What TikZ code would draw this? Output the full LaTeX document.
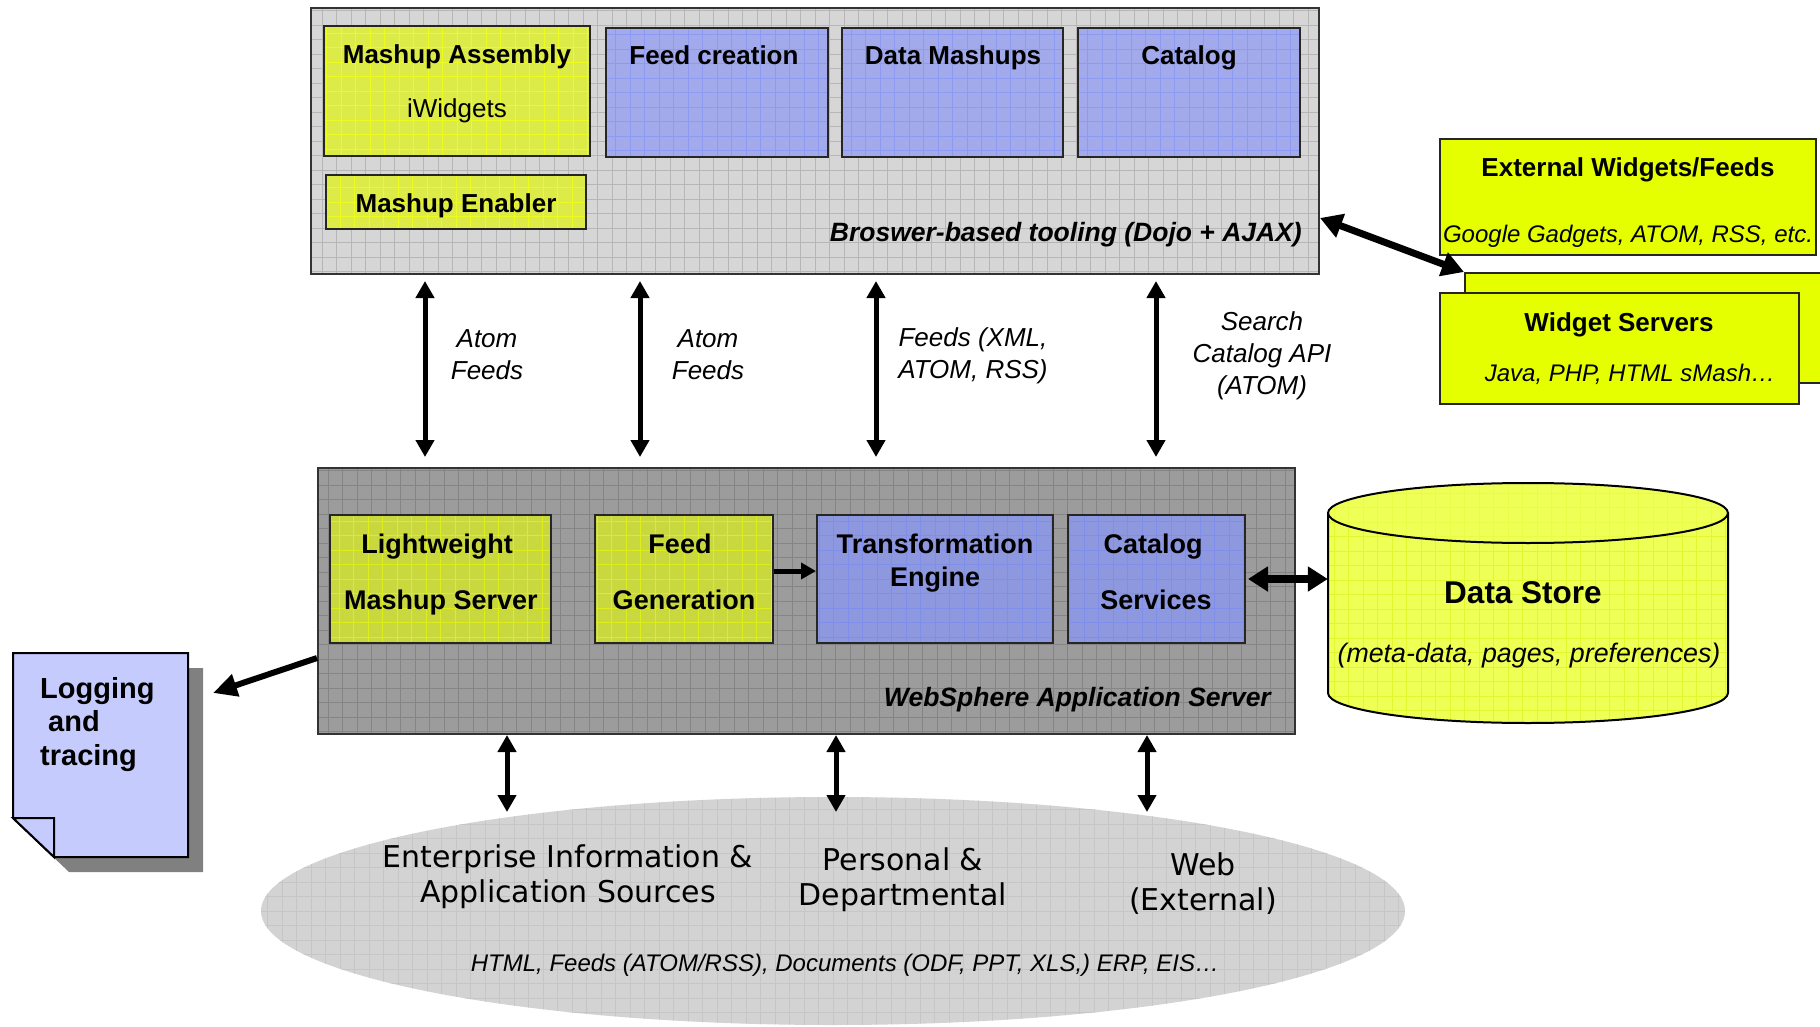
\documentclass[tikz,border=0pt]{standalone}
\usepackage{fontspec}
\setmainfont{Liberation Sans}
\newfontfamily\ellfont{DejaVu Sans}
\usetikzlibrary{arrows.meta,shapes.geometric}
\definecolor{topbg}{HTML}{D6D6D6}
\definecolor{topgrid}{HTML}{B6B6B6}
\definecolor{ylw}{HTML}{DCEB48}
\definecolor{ylwgrid}{HTML}{EEFB1E}
\definecolor{blu}{HTML}{A2AAEC}
\definecolor{blugrid}{HTML}{8C9AF2}
\definecolor{midbg}{HTML}{9C9C9C}
\definecolor{midgrid}{HTML}{858585}
\definecolor{mylw}{HTML}{CAD840}
\definecolor{mylwgrid}{HTML}{DDEE1A}
\definecolor{mblu}{HTML}{8E98DE}
\definecolor{mblugrid}{HTML}{7E8EEA}
\definecolor{extylw}{HTML}{E6FF00}
\definecolor{dsylw}{HTML}{EEFF55}
\definecolor{dsgrid}{HTML}{E2F630}
\definecolor{logblu}{HTML}{C6CBFD}
\definecolor{srcgray}{HTML}{D3D3D3}
\definecolor{srcgrid}{HTML}{C6C6C6}
\tikzset{
  gridded/.style 2 args={fill=#1, path picture={\draw[draw=#2, line width=0.9pt]
     ([shift={(-30pt,-30pt)}]path picture bounding box.south west) grid[step=14.5pt]
     ([shift={(30pt,30pt)}]path picture bounding box.north east);}},
  box/.style={draw=black!85, line width=2pt, inner sep=0pt},
  bt/.style={font=\bfseries\fontsize{26}{31}\selectfont, inner sep=0pt, anchor=base},
  mbt/.style={font=\bfseries\fontsize{27}{32}\selectfont, inner sep=0pt, anchor=base},
  rt/.style={font=\fontsize{26}{31}\selectfont, inner sep=0pt, anchor=base},
  it/.style={font=\itshape\fontsize{26}{32}\selectfont, inner sep=0pt, align=center},
  sit/.style={font=\itshape\fontsize{24}{28}\selectfont, inner sep=0pt, anchor=base},
  bit/.style={font=\bfseries\itshape\fontsize{26.5}{31}\selectfont, inner sep=0pt, anchor=base east},
  et/.style={font=\ellfont\fontsize{30}{35}\selectfont, inner sep=0pt, align=center},
  varr/.style={{Triangle[length=17pt,width=18pt]}-{Triangle[length=17pt,width=18pt]}, line width=5pt},
  bigarr/.style={{Triangle[length=22pt,width=24pt]}-{Triangle[length=22pt,width=24pt]}, line width=7pt},
}
\begin{document}
\begin{tikzpicture}[x=1pt,y=-1pt]
\useasboundingbox (0,0) rectangle (1820,1027);

% ---------- browser tooling ----------
\node[box, gridded={topbg}{topgrid}, draw=black!80, minimum width=1008, minimum height=266] (top) at (815,141) {};
\node[box, gridded={ylw}{ylwgrid}, minimum width=266, minimum height=130] (ma) at (457,91) {};
\node[bt] (maT) at (457,63.5) {Mashup Assembly};
\node[rt] (maS) at (457,117.5) {iWidgets};
\node[box, gridded={blu}{blugrid}, minimum width=222, minimum height=129] (fc) at (717,92.5) {};
\node[bt] (fcT) at (714,64.5) {Feed creation};
\node[box, gridded={blu}{blugrid}, minimum width=221, minimum height=129] (dm) at (952.5,92.5) {};
\node[bt] (dmT) at (953,64.5) {Data Mashups};
\node[box, gridded={blu}{blugrid}, minimum width=222, minimum height=129] (cat) at (1189,92.5) {};
\node[bt] (catT) at (1189,64.5) {Catalog};
\node[box, gridded={ylw}{ylwgrid}, minimum width=260, minimum height=54] (me) at (456,202) {};
\node[bt] (meT) at (456,212) {Mashup Enabler};
\node[bit] (topT) at (1302,241.5) {Broswer-based tooling (Dojo + AJAX)};

% ---------- external ----------
\node[box, fill=extylw, minimum width=376, minimum height=116] (ext) at (1628,197) {};
\node[bt] (extT) at (1628,177) {External Widgets/Feeds};
\node[sit] (extS) at (1628,243) {Google Gadgets, ATOM, RSS, etc.};
\node[box, fill=extylw, anchor=north west, minimum width=370, minimum height=110] (wsback) at (1464,272) {};
\node[box, fill=extylw, minimum width=359, minimum height=111] (ws) at (1619.5,348.5) {};
\node[bt] (wsT) at (1619,331) {Widget Servers};
\node[sit] (wsS) at (1630,381) {Java, PHP, HTML sMash…};

% ---------- application server ----------
\node[box, gridded={midbg}{midgrid}, draw=black!80, minimum width=977, minimum height=266] (mid) at (806.5,601) {};
\node[box, gridded={mylw}{mylwgrid}, minimum width=221, minimum height=128] (lms) at (440.5,579) {};
\node[mbt] (lmsT1) at (437,553) {Lightweight};
\node[mbt] (lmsT2) at (441,609) {Mashup Server};
\node[box, gridded={mylw}{mylwgrid}, minimum width=178, minimum height=128] (fg) at (684,579) {};
\node[mbt] (fgT1) at (680,553) {Feed};
\node[mbt] (fgT2) at (684,609) {Generation};
\node[box, gridded={mblu}{mblugrid}, minimum width=236, minimum height=128] (te) at (935,579) {};
\node[mbt] (teT1) at (935,553) {Transformation};
\node[mbt] (teT2) at (935,586) {Engine};
\node[box, gridded={mblu}{mblugrid}, minimum width=177, minimum height=128] (cs) at (1156.5,579) {};
\node[mbt] (csT1) at (1153,553) {Catalog};
\node[mbt] (csT2) at (1156,609) {Services};
\node[bit] (midT) at (1271,706) {WebSphere Application Server};

% ---------- data store ----------
\node[minimum width=400, minimum height=240, inner sep=0pt] (ds) at (1528,603) {};
\begin{scope}
  \clip (1328,513) -- (1328,693) arc[start angle=180, end angle=360, x radius=200pt, y radius=30pt]
        -- (1728,513) arc[start angle=0, end angle=180, x radius=200pt, y radius=30pt] -- cycle;
  \fill[dsylw] (1320,470) rectangle (1740,730);
  \draw[dsgrid, line width=0.9pt] (1320,470) grid[step=14.5pt] (1740,730);
\end{scope}
\draw[line width=2pt] (1328,513) -- (1328,693) arc[start angle=180, end angle=360, x radius=200pt, y radius=30pt] -- (1728,513);
\draw[line width=2pt, fill=dsylw, fill opacity=0.6] (1528,513) ellipse[x radius=200pt, y radius=30pt];
\node[font=\bfseries\fontsize{31.5}{36}\selectfont, inner sep=0pt, anchor=base] (dsT) at (1523,603.5) {Data Store};
\node[font=\itshape\fontsize{26.8}{32}\selectfont, inner sep=0pt, anchor=base] (dsS) at (1529,662) {(meta-data, pages, preferences)};

% ---------- logging ----------
\fill[black!50] (28,668) -- (203,668) -- (203,872) -- (69,872) -- (28,833) -- cycle;
\node[minimum width=175, minimum height=204, inner sep=0pt] (log) at (100.5,755) {};
\draw[line width=2pt, fill=logblu] (13,653) -- (188,653) -- (188,857) -- (54,857) -- (13,818) -- cycle;
\draw[line width=2pt, fill=logblu] (13,818) -- (54,818) -- (54,857) -- cycle;
\node[font=\bfseries\fontsize{29}{33.5}\selectfont, align=left, anchor=north west, inner sep=0pt] (logT) at (40,677) {Logging\\\hspace*{8pt}and\\tracing};

% ---------- sources ----------
\node[ellipse, gridded={srcgray}{srcgrid}, minimum width=1144, minimum height=228, inner sep=0pt] (src) at (833,911) {};
\node[et] (srcA) at (568,877) {Enterprise Information \&\\Application Sources};
\node[et] (srcB) at (903,879.5) {Personal \&\\Departmental};
\node[et] (srcC) at (1203,883.5) {Web\\(External)};
\node[sit] (srcD) at (845,971.5) {HTML, Feeds (ATOM/RSS), Documents (ODF, PPT, XLS,) ERP, EIS…};

% ---------- connectors ----------
\draw[varr, shorten <=6pt, shorten >=10pt] (top.south -| 425,0) -- (mid.north -| 425,0);
\draw[varr, shorten <=6pt, shorten >=10pt] (top.south -| 640,0) -- (mid.north -| 640,0);
\draw[varr, shorten <=6pt, shorten >=10pt] (top.south -| 876,0) -- (mid.north -| 876,0);
\draw[varr, shorten <=6pt, shorten >=10pt] (top.south -| 1156,0) -- (mid.north -| 1156,0);
\node[it] (l1) at (487,354.5) {Atom\\Feeds};
\node[it] (l2) at (708,354.5) {Atom\\Feeds};
\node[it] (l3) at (973,355.5) {Feeds (XML,\\ATOM, RSS)};
\node[it] (l4) at (1262,355.5) {Search\\Catalog API\\(ATOM)};

\draw[bigarr] (top.east |- 0,218) -- (wsback.north west);
\draw[-{Triangle[length=15pt,width=16pt]}, line width=5pt] (fg.east |- 0,571) -- (te.west |- 0,571);
\draw[{Triangle[length=20pt,width=24pt]}-{Triangle[length=20pt,width=24pt]}, line width=8pt, shorten <=2pt] (cs.east) -- (cs.east -| ds.west);
\coordinate (logtip) at (213,693);
\draw[-{Triangle[length=24pt,width=22pt]}, line width=6pt] (mid.west |- 0,658) -- (logtip);

\draw[varr] (mid.south -| 507,0) -- (507,812);
\draw[varr] (mid.south -| 836,0) -- (836,812);
\draw[varr] (mid.south -| 1147,0) -- (1147,812);
\end{tikzpicture}
\end{document}
